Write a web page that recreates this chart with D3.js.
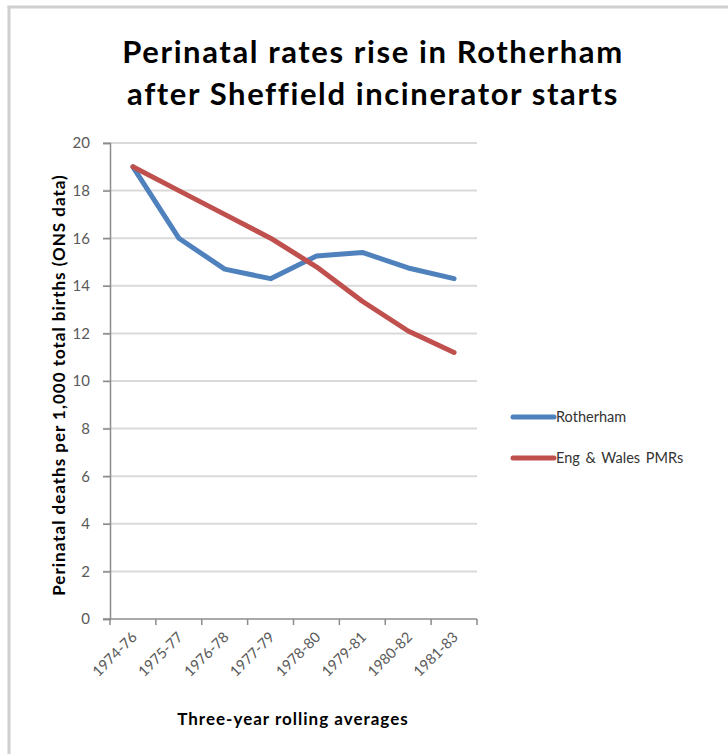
<!DOCTYPE html>
<html><head><meta charset="utf-8">
<script src="https://cdn.jsdelivr.net/npm/d3@7"></script>
<style>
html,body{margin:0;padding:0;background:#fff;}
svg{display:block;}
text{font-family:Lato,"Open Sans",sans-serif;}
</style></head>
<body>
<script>
const categories = ["1974-76","1975-77","1976-78","1977-79","1978-80","1979-81","1980-82","1981-83"];
const rotherham = [19.0, 16.0, 14.7, 14.3, 15.25, 15.4, 14.75, 14.3];
const engWales = [19.0, 18.0, 17.0, 16.0, 14.8, 13.35, 12.1, 11.2];
const yTicks = [0,2,4,6,8,10,12,14,16,18,20];
const seriesNames = ["Rotherham","Eng & Wales PMRs"];
const seriesColors = ["#4f81bd","#c0504d"];
const titleLines = ["Perinatal rates rise in Rotherham","after Sheffield incinerator starts"];
const yTitle = "Perinatal deaths per 1,000 total births (ONS data)";
const xTitle = "Three-year rolling averages";

(function(){
const W = 728, H = 754;
const svg = d3.select("body").append("svg").attr("width", W).attr("height", H);

svg.append("rect").attr("x",0).attr("y",0).attr("width",W).attr("height",H).attr("fill","#fff");
svg.append("line").attr("x1",9).attr("x2",9).attr("y1",6).attr("y2",H).attr("stroke","#d0d0d0").attr("stroke-width",3);
svg.append("line").attr("x1",7.5).attr("x2",W).attr("y1",7).attr("y2",7).attr("stroke","#d0d0d0").attr("stroke-width",3);

const pL = 110, pR = 477, pT = 143, pB = 619;
const x = d3.scaleBand().domain(categories).range([pL,pR]);
const y = d3.scaleLinear().domain([0,20]).range([pB,pT]);

const title = svg.append("text").attr("text-anchor","middle").attr("font-weight","bold")
  .attr("font-size",31).attr("letter-spacing",1.6).attr("fill","#000");
titleLines.forEach((t,i)=>{
  title.append("tspan").attr("x",373).attr("y",63 + i*42).text(t);
});

svg.append("g").selectAll("line").data(yTicks.filter(d=>d>0)).join("line")
  .attr("x1",pL-7).attr("x2",pR).attr("y1",d=>y(d)).attr("y2",d=>y(d))
  .attr("stroke","#d9d9d9").attr("stroke-width",2);

const yAxis = svg.append("g").attr("transform",`translate(${pL},0)`)
  .call(d3.axisLeft(y).tickValues(yTicks).tickSize(7).tickPadding(13));
yAxis.select(".domain").attr("stroke","#8c8c8c").attr("stroke-width",1.5);
yAxis.selectAll(".tick line").attr("stroke","#8c8c8c").attr("stroke-width",1.5);
yAxis.selectAll(".tick text").attr("font-size",15).attr("fill","#595959").attr("font-family","Lato, sans-serif");

const xAxis = svg.append("g").attr("transform",`translate(0,${pB})`)
  .call(d3.axisBottom(x).tickSize(0).tickFormat(""));
xAxis.select(".domain").attr("stroke","#8c8c8c").attr("stroke-width",1.5).attr("d",`M${pL-7},0H${pR}`);
const edges = d3.range(categories.length+1).map(i=>pL + i*x.step());
svg.append("g").selectAll("line").data(edges).join("line")
  .attr("x1",d=>d).attr("x2",d=>d).attr("y1",pB).attr("y2",pB+6)
  .attr("stroke","#8c8c8c").attr("stroke-width",1.5);
svg.append("g").selectAll("text").data(categories).join("text")
  .attr("transform",d=>`translate(${x(d)+x.bandwidth()/2+5},${pB+19}) rotate(-45)`)
  .attr("text-anchor","end").attr("font-size",14.5).attr("fill","#595959").text(d=>d);

svg.append("text").attr("transform",`translate(65,${(pT+pB)/2+4}) rotate(-90)`)
  .attr("text-anchor","middle").attr("font-weight","bold").attr("font-size",17)
  .attr("letter-spacing",1).attr("fill","#000").text(yTitle);
svg.append("text").attr("x",293).attr("y",725).attr("text-anchor","middle")
  .attr("font-weight","bold").attr("font-size",17).attr("letter-spacing",1).attr("fill","#000").text(xTitle);

const line = d3.line().x((d,i)=>x(categories[i])+x.bandwidth()/2).y(d=>y(d));
[rotherham, engWales].forEach((s,i)=>{
  svg.append("path").datum(s).attr("d",line).attr("fill","none")
    .attr("stroke",seriesColors[i]).attr("stroke-width",5)
    .attr("stroke-linejoin","round").attr("stroke-linecap","round");
});

const lg = svg.append("g");
seriesNames.forEach((n,i)=>{
  const ly = 417 + i*41;
  lg.append("line").attr("x1",513).attr("x2",554).attr("y1",ly).attr("y2",ly)
    .attr("stroke",seriesColors[i]).attr("stroke-width",5).attr("stroke-linecap","round");
  lg.append("text").attr("x",556).attr("y",ly+5).attr("font-size",14.5).attr("word-spacing",2)
    .attr("fill","#333").text(n);
});
})();
</script>
</body></html>
